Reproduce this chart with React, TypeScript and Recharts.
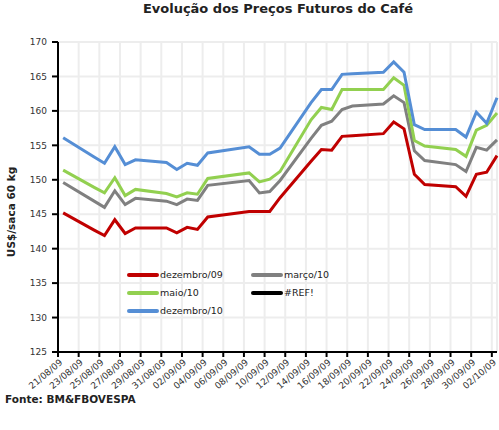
import React from "react";
import { LineChart, Line, XAxis, YAxis, CartesianGrid } from "recharts";

// pregões (datas dd/mm/aa)
const dates = [
  "21/08/09", "24/08/09", "25/08/09", "26/08/09", "27/08/09", "28/08/09", "31/08/09",
  "01/09/09", "02/09/09", "03/09/09", "04/09/09", "08/09/09", "09/09/09", "10/09/09",
  "11/09/09", "14/09/09", "15/09/09", "16/09/09", "17/09/09", "18/09/09", "21/09/09",
  "22/09/09", "23/09/09", "24/09/09", "25/09/09", "28/09/09", "29/09/09", "30/09/09",
  "01/10/09", "02/10/09",
];

const dez09 = [145.2, 142.7, 141.9, 144.2, 142.2, 143.0, 143.0, 142.3, 143.1, 142.8, 144.6, 145.4, 145.4, 145.4, 147.4, 152.7, 154.4, 154.3, 156.3, 156.4, 156.7, 158.4, 157.4, 150.8, 149.3, 149.0, 147.6, 150.8, 151.1, 153.5];
const mar10 = [149.6, 146.9, 146.0, 148.4, 146.4, 147.3, 146.9, 146.4, 147.2, 147.0, 149.2, 149.9, 148.1, 148.3, 149.9, 156.0, 157.9, 158.5, 160.2, 160.7, 161.0, 162.2, 161.2, 154.2, 152.8, 152.2, 151.2, 154.7, 154.3, 155.8];
const mai10 = [151.4, 148.9, 148.1, 150.3, 147.7, 148.6, 148.0, 147.5, 148.1, 147.9, 150.2, 151.0, 149.7, 150.1, 151.2, 158.7, 160.5, 160.2, 163.1, 163.1, 163.1, 164.8, 163.7, 155.7, 154.9, 154.4, 153.4, 157.2, 157.9, 159.7];
const dez10 = [156.1, 153.3, 152.4, 154.8, 152.2, 152.9, 152.5, 151.5, 152.4, 152.1, 153.9, 154.8, 153.7, 153.7, 154.6, 161.2, 163.1, 163.1, 165.3, 165.4, 165.6, 167.1, 165.6, 158.0, 157.3, 157.3, 156.2, 159.8, 158.2, 161.9];

const tickDates = [
  "21/08/09", "23/08/09", "25/08/09", "27/08/09", "29/08/09", "31/08/09", "02/09/09",
  "04/09/09", "06/09/09", "08/09/09", "10/09/09", "12/09/09", "14/09/09", "16/09/09",
  "18/09/09", "20/09/09", "22/09/09", "24/09/09", "26/09/09", "28/09/09", "30/09/09",
  "02/10/09",
];
const yTicks = [125, 130, 135, 140, 145, 150, 155, 160, 165, 170];

const series = [
  { key: "dez09", name: "dezembro/09", color: "#C00000" },
  { key: "mar10", name: "março/10", color: "#808080" },
  { key: "mai10", name: "maio/10", color: "#92D050" },
  { key: "ref", name: "#REF!", color: "#000000" },
  { key: "dez10", name: "dezembro/10", color: "#558ED5" },
];

const start = Date.UTC(2009, 7, 21);
const toDay = (s: string) => {
  const [d, m, y] = s.split("/").map(Number);
  return (Date.UTC(2000 + y, m - 1, d) - start) / 86400000;
};

// pontos no meio do dia, como no eixo de datas do Excel
const data = dates.map((d, i) => ({
  x: toDay(d) + 0.5,
  dez09: dez09[i],
  mar10: mar10[i],
  mai10: mai10[i],
  dez10: dez10[i],
}));

const labelByDay: Record<number, string> = {};
tickDates.forEach((t) => (labelByDay[toDay(t)] = t));

const FONT = "DejaVu Sans";

const XTick = (props: any) => {
  const { x, y, payload } = props;
  const ax = x + 3;
  const ay = y + 2;
  return (
    <text
      x={ax}
      y={ay}
      dy="0.35em"
      textAnchor="end"
      transform={`rotate(-40, ${ax}, ${ay})`}
      fontFamily={FONT}
      fontSize={9}
      fill="#333"
    >
      {labelByDay[payload.value]}
    </text>
  );
};

function ChartLegend() {
  const pos = [
    [0, 0],
    [124, 0],
    [0, 18],
    [124, 18],
    [0, 36],
  ];
  return (
    <svg width={230} height={50} style={{ position: "absolute", left: 127, top: 268 }}>
      {series.map((s, i) => (
        <g key={s.key} transform={`translate(${pos[i][0]}, ${pos[i][1] + 7})`}>
          <line x1={2} y1={0} x2={30} y2={0} stroke={s.color} strokeWidth={4} strokeLinecap="round" />
          <text x={33} y={0} dy="0.35em" fontFamily={FONT} fontSize={9.5} fill="#222">
            {s.name}
          </text>
        </g>
      ))}
    </svg>
  );
}

export default function App() {
  return (
    <div style={{ position: "absolute", left: 0, top: 0, width: 499, height: 430, background: "#fff" }}>
      <LineChart width={499} height={430} data={data} margin={{ top: 42, right: 2, left: 0, bottom: 0 }}>
        <text x={278} y={13} textAnchor="middle" fontFamily={FONT} fontWeight="bold" fontSize={13} fill="#222">
          Evolução dos Preços Futuros do Café
        </text>
        <text
          x={15}
          y={212}
          textAnchor="middle"
          transform="rotate(-90, 15, 212)"
          fontFamily={FONT}
          fontWeight="bold"
          fontSize={10.5}
          fill="#222"
        >
          US$/saca 60 kg
        </text>
        <text x={5} y={403} fontFamily={FONT} fontWeight="bold" fontSize={10.5} fill="#222">
          Fonte: BM&amp;FBOVESPA
        </text>
        <CartesianGrid stroke="#ededed" strokeWidth={2} />
        <XAxis
          dataKey="x"
          type="number"
          domain={[0, 42.5]}
          ticks={tickDates.map(toDay)}
          interval={0}
          height={78}
          tick={<XTick />}
          tickSize={5}
          stroke="#000"
          strokeWidth={2}
        />
        <YAxis
          domain={[125, 170]}
          ticks={yTicks}
          width={58}
          tickSize={6}
          tickMargin={5}
          stroke="#000"
          strokeWidth={2}
          tick={{ fontFamily: FONT, fontSize: 9, fill: "#333" }}
        />
        {series
          .filter((s) => s.key !== "ref")
          .map((s) => (
            <Line
              key={s.key}
              dataKey={s.key}
              name={s.name}
              stroke={s.color}
              strokeWidth={3}
              dot={false}
              isAnimationActive={false}
            />
          ))}
      </LineChart>
      <ChartLegend />
    </div>
  );
}
